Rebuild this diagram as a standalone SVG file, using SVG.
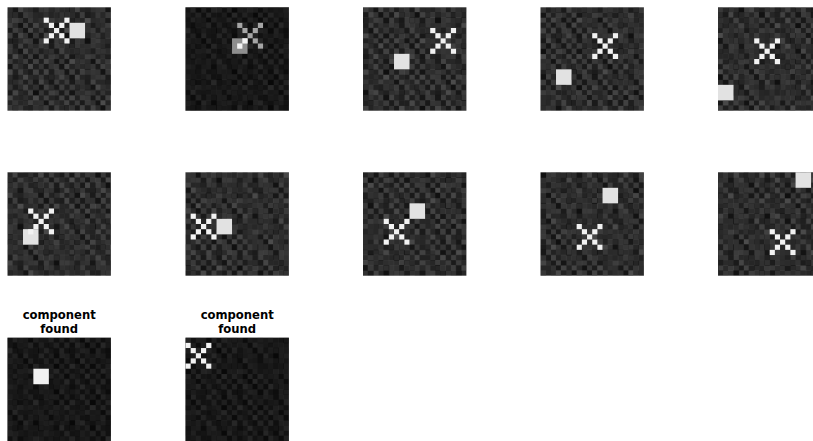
<svg xmlns="http://www.w3.org/2000/svg" xmlns:xlink="http://www.w3.org/1999/xlink" width="813" height="441" viewBox="0 0 813 441">
<style>
.bg{fill:url(#nA)}
.ov{fill:url(#nB)}
.dk{fill:#000;fill-opacity:.45}
.xw{fill:#f2f2f2}
.sw{fill:#e2e2e2}
.t{font-family:"DejaVu Sans",sans-serif;font-weight:bold;font-size:11.6px;text-anchor:middle;fill:#000}
</style>
<defs>
<pattern id="nA" patternUnits="userSpaceOnUse" width="36.19" height="36.19" shape-rendering="crispEdges">
<rect width="36.19" height="36.19" fill="#2a2a2a"/>
<rect x="5.17" y="0" width="5.17" height="5.17" fill="#1c1c1c"/><rect x="10.34" y="0" width="5.17" height="5.17" fill="#3a3a3a"/><rect x="15.51" y="0" width="5.17" height="5.17" fill="#242424"/><rect x="20.68" y="0" width="5.17" height="5.17" fill="#303030"/><rect x="25.85" y="0" width="5.17" height="5.17" fill="#161616"/><rect x="31.02" y="0" width="5.17" height="5.17" fill="#404040"/>
<rect x="0" y="5.17" width="5.17" height="5.17" fill="#343434"/><rect x="5.17" y="5.17" width="5.17" height="5.17" fill="#222"/><rect x="10.34" y="5.17" width="5.17" height="5.17" fill="#181818"/><rect x="15.51" y="5.17" width="5.17" height="5.17" fill="#3e3e3e"/><rect x="20.68" y="5.17" width="5.17" height="5.17" fill="#262626"/><rect x="25.85" y="5.17" width="5.17" height="5.17" fill="#2e2e2e"/><rect x="31.02" y="5.17" width="5.17" height="5.17" fill="#1a1a1a"/>
<rect x="0" y="10.34" width="5.17" height="5.17" fill="#1e1e1e"/><rect x="5.17" y="10.34" width="5.17" height="5.17" fill="#444"/><rect x="10.34" y="10.34" width="5.17" height="5.17" fill="#2c2c2c"/><rect x="15.51" y="10.34" width="5.17" height="5.17" fill="#202020"/><rect x="20.68" y="10.34" width="5.17" height="5.17" fill="#383838"/><rect x="25.85" y="10.34" width="5.17" height="5.17" fill="#121212"/><rect x="31.02" y="10.34" width="5.17" height="5.17" fill="#323232"/>
<rect x="0" y="15.51" width="5.17" height="5.17" fill="#3c3c3c"/><rect x="5.17" y="15.51" width="5.17" height="5.17" fill="#282828"/><rect x="10.34" y="15.51" width="5.17" height="5.17" fill="#161616"/><rect x="15.51" y="15.51" width="5.17" height="5.17" fill="#343434"/><rect x="20.68" y="15.51" width="5.17" height="5.17" fill="#1c1c1c"/><rect x="25.85" y="15.51" width="5.17" height="5.17" fill="#424242"/><rect x="31.02" y="15.51" width="5.17" height="5.17" fill="#242424"/>
<rect x="0" y="20.68" width="5.17" height="5.17" fill="#181818"/><rect x="5.17" y="20.68" width="5.17" height="5.17" fill="#363636"/><rect x="10.34" y="20.68" width="5.17" height="5.17" fill="#2e2e2e"/><rect x="15.51" y="20.68" width="5.17" height="5.17" fill="#1a1a1a"/><rect x="20.68" y="20.68" width="5.17" height="5.17" fill="#464646"/><rect x="25.85" y="20.68" width="5.17" height="5.17" fill="#262626"/><rect x="31.02" y="20.68" width="5.17" height="5.17" fill="#303030"/>
<rect x="0" y="25.85" width="5.17" height="5.17" fill="#404040"/><rect x="5.17" y="25.85" width="5.17" height="5.17" fill="#202020"/><rect x="10.34" y="25.85" width="5.17" height="5.17" fill="#3a3a3a"/><rect x="20.68" y="25.85" width="5.17" height="5.17" fill="#141414"/><rect x="25.85" y="25.85" width="5.17" height="5.17" fill="#363636"/><rect x="31.02" y="25.85" width="5.17" height="5.17" fill="#1e1e1e"/>
<rect x="0" y="31.02" width="5.17" height="5.17" fill="#262626"/><rect x="5.17" y="31.02" width="5.17" height="5.17" fill="#141414"/><rect x="10.34" y="31.02" width="5.17" height="5.17" fill="#303030"/><rect x="15.51" y="31.02" width="5.17" height="5.17" fill="#424242"/><rect x="20.68" y="31.02" width="5.17" height="5.17" fill="#2c2c2c"/><rect x="25.85" y="31.02" width="5.17" height="5.17" fill="#1a1a1a"/><rect x="31.02" y="31.02" width="5.17" height="5.17" fill="#3a3a3a"/>
<rect width="36.19" height="36.19" fill="#000" fill-opacity=".18"/>
</pattern>
<pattern id="nB" patternUnits="userSpaceOnUse" width="25.85" height="25.85" shape-rendering="crispEdges">
<g fill="#fff" opacity=".6">
<rect x="5.17" y="0" width="5.17" height="5.17" fill-opacity=".10"/><rect x="10.34" y="0" width="5.17" height="5.17" fill-opacity=".04"/><rect x="15.51" y="0" width="5.17" height="5.17" fill-opacity=".14"/><rect x="20.68" y="0" width="5.17" height="5.17" fill-opacity=".06"/>
<rect x="0" y="5.17" width="5.17" height="5.17" fill-opacity=".12"/><rect x="5.17" y="5.17" width="5.17" height="5.17" fill-opacity=".02"/><rect x="10.34" y="5.17" width="5.17" height="5.17" fill-opacity=".08"/><rect x="20.68" y="5.17" width="5.17" height="5.17" fill-opacity=".16"/>
<rect x="0" y="10.34" width="5.17" height="5.17" fill-opacity=".06"/><rect x="5.17" y="10.34" width="5.17" height="5.17" fill-opacity=".14"/><rect x="15.51" y="10.34" width="5.17" height="5.17" fill-opacity=".10"/><rect x="20.68" y="10.34" width="5.17" height="5.17" fill-opacity=".03"/>
<rect x="0" y="15.51" width="5.17" height="5.17" fill-opacity=".02"/><rect x="5.17" y="15.51" width="5.17" height="5.17" fill-opacity=".08"/><rect x="10.34" y="15.51" width="5.17" height="5.17" fill-opacity=".16"/><rect x="15.51" y="15.51" width="5.17" height="5.17" fill-opacity=".04"/><rect x="20.68" y="15.51" width="5.17" height="5.17" fill-opacity=".12"/>
<rect x="0" y="20.68" width="5.17" height="5.17" fill-opacity=".15"/><rect x="5.17" y="20.68" width="5.17" height="5.17" fill-opacity=".04"/><rect x="10.34" y="20.68" width="5.17" height="5.17" fill-opacity=".10"/><rect x="15.51" y="20.68" width="5.17" height="5.17" fill-opacity=".07"/>
</g>
</pattern>
<g id="x">
<rect x="0" y="0" width="5.17" height="5.17"/><rect x="20.68" y="0" width="5.17" height="5.17"/>
<rect x="5.17" y="5.17" width="5.17" height="5.17"/><rect x="15.51" y="5.17" width="5.17" height="5.17"/>
<rect x="10.34" y="10.34" width="5.17" height="5.17"/>
<rect x="5.17" y="15.51" width="5.17" height="5.17"/><rect x="15.51" y="15.51" width="5.17" height="5.17"/>
<rect x="0" y="20.68" width="5.17" height="5.17"/><rect x="20.68" y="20.68" width="5.17" height="5.17"/>
</g>
<rect id="sq" width="15.51" height="15.51"/>
</defs>
<rect width="813" height="441" fill="#fff"/>

<g id="panel1" transform="translate(7.5,7.3)">
<rect class="bg" width="103.4" height="103.4"/>
<rect class="ov" x="10.34" y="5.17" width="103.4" height="103.4" transform="translate(-10.34,-5.17)"/>
<use href="#sq" class="sw" x="62.04" y="15.51"/>
<use href="#x" class="xw" x="36.19" y="10.34"/>
</g>

<g id="panel2" transform="translate(185.5,7.3)">
<rect class="bg" x="15.51" y="10.34" width="103.4" height="103.4" transform="translate(-15.51,-10.34)"/>
<rect class="ov" x="5.17" y="15.51" width="103.4" height="103.4" transform="translate(-5.17,-15.51)"/>
<rect class="dk" width="103.4" height="103.4"/>
<use href="#sq" x="46.53" y="31.02" fill="#8e8e8e"/>
<use href="#x" x="51.7" y="15.51" fill="#a6a6a6"/>
<rect x="56.87" y="31.02" width="5.17" height="5.17" fill="#f4f4f4"/>
<rect x="51.7" y="36.19" width="5.17" height="5.17" fill="#f4f4f4"/>
</g>

<g id="panel3" transform="translate(363,7.3)">
<rect class="bg" x="5.17" y="20.68" width="103.4" height="103.4" transform="translate(-5.17,-20.68)"/>
<rect class="ov" x="15.51" y="0" width="103.4" height="103.4" transform="translate(-15.51,0)"/>
<use href="#sq" class="sw" x="31.02" y="46.53"/>
<use href="#x" class="xw" x="67.21" y="20.68"/>
</g>

<g id="panel4" transform="translate(540.5,7.3)">
<rect class="bg" x="25.85" y="5.17" width="103.4" height="103.4" transform="translate(-25.85,-5.17)"/>
<rect class="ov" x="10.34" y="20.68" width="103.4" height="103.4" transform="translate(-10.34,-20.68)"/>
<use href="#sq" class="sw" x="15.51" y="62.04"/>
<use href="#x" class="xw" x="51.7" y="25.85"/>
</g>

<g id="panel5" transform="translate(718,7.3)">
<rect class="bg" x="20.68" y="31.02" width="103.4" height="103.4" transform="translate(-20.68,-31.02)"/>
<rect class="ov" x="20.68" y="5.17" width="103.4" height="103.4" transform="translate(-20.68,-5.17)"/>
<use href="#sq" class="sw" x="0" y="77.55"/>
<use href="#x" class="xw" x="36.19" y="31.02"/>
</g>

<g id="panel6" transform="translate(7.5,172.3)">
<rect class="bg" x="31.02" y="15.51" width="103.4" height="103.4" transform="translate(-31.02,-15.51)"/>
<rect class="ov" x="0" y="10.34" width="103.4" height="103.4" transform="translate(0,-10.34)"/>
<use href="#sq" class="sw" x="15.51" y="56.87"/>
<use href="#x" class="xw" x="20.68" y="36.19"/>
</g>

<g id="panel7" transform="translate(185.5,172.3)">
<rect class="bg" x="10.34" y="25.85" width="103.4" height="103.4" transform="translate(-10.34,-25.85)"/>
<rect class="ov" x="15.51" y="15.51" width="103.4" height="103.4" transform="translate(-15.51,-15.51)"/>
<use href="#sq" class="sw" x="31.02" y="46.53"/>
<use href="#x" class="xw" x="5.17" y="41.36"/>
</g>

<g id="panel8" transform="translate(363,172.3)">
<rect class="bg" x="20.68" y="5.17" width="103.4" height="103.4" transform="translate(-20.68,-5.17)"/>
<rect class="ov" x="5.17" y="5.17" width="103.4" height="103.4" transform="translate(-5.17,-5.17)"/>
<use href="#sq" class="sw" x="46.53" y="31.02"/>
<use href="#x" class="xw" x="20.68" y="46.53"/>
</g>

<g id="panel9" transform="translate(540.5,172.3)">
<rect class="bg" x="5.17" y="31.02" width="103.4" height="103.4" transform="translate(-5.17,-31.02)"/>
<rect class="ov" x="10.34" y="10.34" width="103.4" height="103.4" transform="translate(-10.34,-10.34)"/>
<use href="#sq" class="sw" x="62.04" y="15.51"/>
<use href="#x" class="xw" x="36.19" y="51.7"/>
</g>

<g id="panel10" transform="translate(718,172.3)">
<rect class="bg" x="31.02" y="25.85" width="103.4" height="103.4" transform="translate(-31.02,-25.85)"/>
<rect class="ov" x="20.68" y="15.51" width="103.4" height="103.4" transform="translate(-20.68,-15.51)"/>
<use href="#sq" class="sw" x="77.55" y="0"/>
<use href="#x" class="xw" x="51.7" y="56.87"/>
</g>

<g id="panel11" transform="translate(7.5,337.7)">
<rect class="bg" x="15.51" y="20.68" width="103.4" height="103.4" transform="translate(-15.51,-20.68)"/>
<rect class="ov" x="5.17" y="0" width="103.4" height="103.4" transform="translate(-5.17,0)"/>
<rect class="dk" width="103.4" height="103.4"/>
<use href="#sq" class="xw" x="25.85" y="31.02"/>
</g>
<text class="t" x="59.2" y="319">component</text>
<text class="t" x="59.2" y="333">found</text>

<g id="panel12" transform="translate(185.5,337.7)">
<rect class="bg" x="25.85" y="15.51" width="103.4" height="103.4" transform="translate(-25.85,-15.51)"/>
<rect class="ov" x="15.51" y="10.34" width="103.4" height="103.4" transform="translate(-15.51,-10.34)"/>
<rect class="dk" width="103.4" height="103.4"/>
<use href="#x" class="xw" x="0" y="5.17"/>
</g>
<text class="t" x="237.2" y="319">component</text>
<text class="t" x="237.2" y="333">found</text>
</svg>
